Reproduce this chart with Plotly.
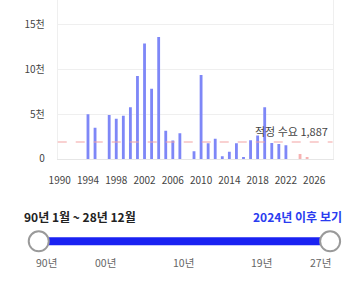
import plotly.graph_objects as go

# ---- data ----
supply_years = [1994, 1995, 1997, 1998, 1999, 2000, 2001, 2002, 2003, 2004, 2005, 2006,
                2007, 2009, 2010, 2011, 2012, 2013, 2014, 2015, 2016, 2017, 2018, 2019,
                2020, 2021, 2022]
supply_values = [4970, 3480, 4890, 4490, 4820, 5760, 9240, 12860, 7830, 13590, 3150, 2050,
                 2860, 870, 9350, 1740, 2250, 290, 800, 1740, 220, 2070, 2600, 5760,
                 1770, 1660, 1520]
future_years = [2024, 2025]
future_values = [560, 200]
proper_demand = 1887
x_ticks = [1990, 1994, 1998, 2002, 2006, 2010, 2014, 2018, 2022, 2026]
y_ticks = [0, 5000, 10000, 15000]
y_tick_text = ["0", "5천", "10천", "15천"]
range_text = "90년 1월 ~ 28년 12월"
link_text = "2024년 이후 보기"
slider_labels = ["90년", "00년", "10년", "19년", "27년"]

W, H = 354, 281
FONT = "Noto Sans CJK KR, Noto Sans, sans-serif"

def px(x):
    return x / W

def py(y):
    return 1 - y / H

fig = go.Figure()
fig.add_trace(go.Bar(x=supply_years, y=supply_values, width=0.4,
                     marker=dict(color="#7e87f7", line=dict(width=0))))
fig.add_trace(go.Bar(x=future_years, y=future_values, width=0.4,
                     marker=dict(color="#f6b2b2", line=dict(width=0))))

shapes = []
shapes.append(dict(type="line", xref="paper", yref="y", x0=px(50), x1=px(332),
                   y0=proper_demand, y1=proper_demand,
                   line=dict(color="#f4a3a3", width=1.2, dash="dash"), layer="above"))
shapes.append(dict(type="line", xref="paper", yref="paper", x0=px(31), x1=px(330),
                   y0=py(247.5), y1=py(247.5), line=dict(color="#1a22f2", width=8)))
for hx in (30.5, 329.5):
    shapes.append(dict(type="circle", xref="paper", yref="paper",
                       xsizemode="pixel", ysizemode="pixel",
                       xanchor=px(hx), yanchor=py(247.5),
                       x0=-10, x1=10, y0=-10, y1=10,
                       fillcolor="white", line=dict(color="#9a9a9a", width=2)))

annotations = []
annotations.append(dict(text=f"적정 수요 {proper_demand:,}", xref="paper", yref="y",
                        x=px(329), y=proper_demand, xanchor="right", yanchor="bottom",
                        yshift=1, showarrow=False,
                        font=dict(size=11, color="#444", family=FONT)))
annotations.append(dict(text=f"<b>{range_text}</b>", xref="paper", yref="paper",
                        x=px(13), y=py(222), xanchor="left", yanchor="middle",
                        showarrow=False, font=dict(size=12, color="#222", family=FONT)))
annotations.append(dict(text=f"<b>{link_text}</b>", xref="paper", yref="paper",
                        x=px(344), y=py(222), xanchor="right", yanchor="middle",
                        showarrow=False, font=dict(size=12, color="#2a3cf0", family=FONT)))
label_pos = [38, 99, 179, 259, 320]
for lab, lx in zip(slider_labels, label_pos):
    annotations.append(dict(text=lab, xref="paper", yref="paper", x=px(lx), y=py(269),
                            xanchor="center", yanchor="middle", showarrow=False,
                            font=dict(size=10.5, color="#666", family=FONT)))

fig.update_layout(
    width=W, height=H,
    margin=dict(l=0, r=0, t=0, b=0),
    paper_bgcolor="white", plot_bgcolor="white",
    showlegend=False, barmode="overlay",
    font=dict(family=FONT, size=10, color="#444"),
    xaxis=dict(domain=[px(50), px(332)], range=[1989.72, 2028.6],
               tickvals=x_ticks, ticktext=[str(t) for t in x_ticks],
               showgrid=False, zeroline=False,
               showline=True, linecolor="#e6e6e6", linewidth=1,
               ticks="outside", ticklen=12, tickcolor="rgba(0,0,0,0)",
               tickfont=dict(size=10, color="#444")),
    yaxis=dict(domain=[py(163), 1], range=[0, 17720],
               tickvals=y_ticks, ticktext=y_tick_text,
               showgrid=True, gridcolor="#efefef", gridwidth=1,
               zeroline=False, showline=True, mirror=True,
               linecolor="#efefef", linewidth=1,
               ticks="outside", ticklen=10, tickcolor="rgba(0,0,0,0)",
               tickfont=dict(size=10, color="#444")),
    shapes=shapes,
    annotations=annotations,
)

fig.write_html("out.html")
